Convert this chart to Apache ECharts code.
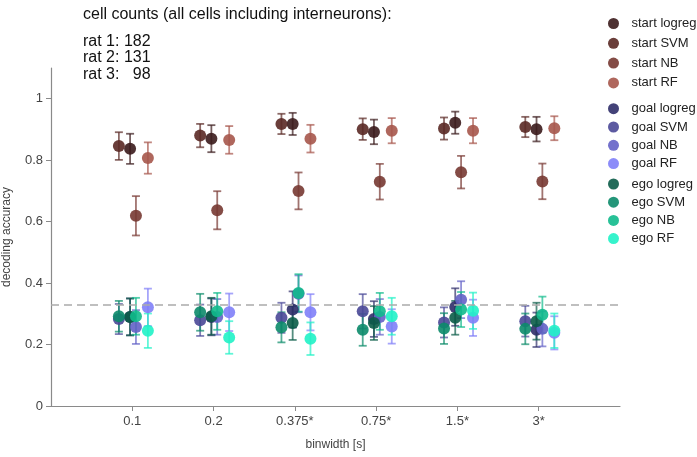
<!DOCTYPE html>
<html>
<head>
<meta charset="utf-8">
<script src="https://cdn.jsdelivr.net/npm/echarts@6/dist/echarts.min.js"></script>
<style>
  html, body { margin: 0; padding: 0; background: #ffffff; }
  #myChart { width: 697px; height: 457px; }
</style>
</head>
<body>
<div id="myChart"></div>
<script>
// binwidths on the x axis
const binLabels = ['0.1', '0.2', '0.375*', '0.75*', '1.5*', '3*']
const yTicks = [0, 0.2, 0.4, 0.6, 0.8, 1]
const chance = 1 / 3

const titleText = 'cell counts (all cells including interneurons):'
const ratLines = ['rat 1: 182', 'rat 2: 131', 'rat 3:   98']

const groups = ['start', 'goal', 'ego']
const algos = ['logreg', 'SVM', 'NB', 'RF']

// mean decoding accuracy per binwidth
const startLogreg = [0.837, 0.870, 0.918, 0.892, 0.922, 0.901]
const startSVM    = [0.846, 0.880, 0.918, 0.901, 0.903, 0.908]
const startNB     = [0.619, 0.637, 0.700, 0.730, 0.761, 0.731]
const startRF     = [0.807, 0.866, 0.870, 0.896, 0.896, 0.904]

const goalLogreg  = [0.290, 0.290, 0.314, 0.283, 0.322, 0.248]
const goalSVM     = [0.283, 0.279, 0.287, 0.308, 0.272, 0.276]
const goalNB      = [0.257, 0.290, 0.365, 0.290, 0.346, 0.251]
const goalRF      = [0.321, 0.305, 0.305, 0.259, 0.287, 0.238]

const egoLogreg   = [0.290, 0.292, 0.270, 0.270, 0.287, 0.276]
const egoSVM      = [0.292, 0.305, 0.256, 0.248, 0.252, 0.251]
const egoNB       = [0.292, 0.308, 0.368, 0.308, 0.314, 0.297]
const egoRF       = [0.245, 0.223, 0.219, 0.292, 0.310, 0.245]

// error bar half widths
const startLogregErr = [0.049, 0.044, 0.036, 0.040, 0.036, 0.040]
const startSVMErr    = [0.045, 0.038, 0.033, 0.035, 0.036, 0.033]
const startNBErr     = [0.064, 0.062, 0.060, 0.058, 0.053, 0.058]
const startRFErr     = [0.051, 0.045, 0.045, 0.041, 0.041, 0.039]

const goalLogregErr  = [0.060, 0.060, 0.059, 0.058, 0.061, 0.056]
const goalSVMErr     = [0.049, 0.051, 0.049, 0.056, 0.049, 0.050]
const goalNBErr      = [0.055, 0.058, 0.060, 0.058, 0.060, 0.057]
const goalRFErr      = [0.061, 0.061, 0.059, 0.056, 0.059, 0.054]

const egoLogregErr   = [0.060, 0.060, 0.055, 0.055, 0.055, 0.060]
const egoSVMErr      = [0.050, 0.060, 0.049, 0.052, 0.050, 0.050]
const egoNBErr       = [0.060, 0.060, 0.061, 0.060, 0.057, 0.059]
const egoRFErr       = [0.056, 0.053, 0.053, 0.060, 0.059, 0.056]

const means = {
  start: [startLogreg, startSVM, startNB, startRF],
  goal: [goalLogreg, goalSVM, goalNB, goalRF],
  ego: [egoLogreg, egoSVM, egoNB, egoRF]
}
const errs = {
  start: [startLogregErr, startSVMErr, startNBErr, startRFErr],
  goal: [goalLogregErr, goalSVMErr, goalNBErr, goalRFErr],
  ego: [egoLogregErr, egoSVMErr, egoNBErr, egoRFErr]
}

const colors = {
  start: ['#3b1b1c', '#5a2925', '#773832', '#a6564b'],
  goal: ['#2f2d69', '#4a4897', '#6462c7', '#807ff8'],
  ego: ['#0b5c48', '#0c8b6a', '#11ba8c', '#20f2c6']
}
// horizontal dodge of each algorithm inside a binwidth
const dodge = [-0.027, -0.165, 0.045, 0.192]

const fontName = '"Liberation Sans", Arial, sans-serif'

function hexA(hex, a) {
  let r = parseInt(hex.slice(1, 3), 16)
  let g = parseInt(hex.slice(3, 5), 16)
  let b = parseInt(hex.slice(5, 7), 16)
  return 'rgba(' + r + ',' + g + ',' + b + ',' + a + ')'
}

function errRender(params, api) {
  let x = api.value(0)
  let top = api.coord([x, api.value(2)])
  let bot = api.coord([x, api.value(1)])
  let hw = 4
  let style = { stroke: api.visual('color'), lineWidth: 1.8, fill: null }
  return {
    type: 'group',
    children: [
      { type: 'line', shape: { x1: top[0], y1: top[1], x2: bot[0], y2: bot[1] }, style: style },
      { type: 'line', shape: { x1: top[0] - hw, y1: top[1], x2: top[0] + hw, y2: top[1] }, style: style },
      { type: 'line', shape: { x1: bot[0] - hw, y1: bot[1], x2: bot[0] + hw, y2: bot[1] }, style: style }
    ]
  }
}

let series = []
groups.forEach(g => {
  algos.forEach((a, k) => {
    let name = g + ' ' + a
    let c = colors[g][k]
    let pts = [], bars = []
    means[g][k].forEach((m, i) => {
      let x = i + dodge[k]
      pts.push([x, m])
      bars.push([x, m - errs[g][k][i], m + errs[g][k][i]])
    })
    series.push({
      name: name + ' err',
      type: 'custom',
      renderItem: errRender,
      itemStyle: { color: hexA(c, 0.7) },
      encode: { x: 0, y: [1, 2] },
      silent: true,
      data: bars
    })
    series.push({
      name: name,
      type: 'scatter',
      symbol: 'circle',
      symbolSize: 12,
      itemStyle: { color: c, opacity: 0.9 },
      data: pts
    })
  })
})

// chance level line
series[0].markLine = {
  silent: true,
  symbol: ['none', 'none'],
  label: { show: false },
  lineStyle: { type: [8, 5], color: '#aaaaaa', width: 1.5 },
  data: [{ yAxis: chance }]
}

function legendFor(g, top, gap) {
  return {
    orient: 'vertical',
    left: 603,
    top: top,
    itemWidth: 26,
    itemHeight: 11,
    itemGap: gap,
    icon: 'circle',
    textStyle: { fontFamily: fontName, fontSize: 13, color: '#222', lineHeight: 14 },
    data: algos.map(a => g + ' ' + a)
  }
}

let myChart = echarts.init(document.getElementById('myChart'))
let option = {
  backgroundColor: '#ffffff',
  animation: false,
  textStyle: { fontFamily: fontName },
  graphic: [
    {
      type: 'text', left: 83, top: 7,
      style: { text: titleText, font: '16px ' + fontName, fill: '#111' }
    },
    {
      type: 'text', left: 83, top: 33,
      style: { text: ratLines.join('\n'), font: '16px ' + fontName, lineHeight: 16.5, fill: '#111' }
    }
  ],
  legend: [
    legendFor('start', 11.5, 5.8),
    legendFor('goal', 96.7, 4.3),
    legendFor('ego', 172, 4.2)
  ],
  grid: { left: 51, right: 77, top: 68, bottom: 51, containLabel: false, outerBoundsMode: 'none' },
  xAxis: {
    type: 'value',
    min: -1,
    max: 6,
    name: 'binwidth [s]',
    nameLocation: 'middle',
    nameGap: 33,
    nameTextStyle: { fontSize: 12, color: '#444' },
    splitLine: { show: false },
    axisLine: { onZero: false, lineStyle: { color: '#8a8a8a', width: 1.2 } },
    axisTick: { show: true, length: 5, customValues: [0, 1, 2, 3, 4, 5], lineStyle: { color: '#8a8a8a' } },
    axisLabel: {
      customValues: [0, 1, 2, 3, 4, 5],
      formatter: v => binLabels[Math.round(v)],
      color: '#444',
      fontSize: 13,
      margin: 9
    }
  },
  yAxis: {
    type: 'value',
    min: 0,
    max: 1.1,
    name: 'decoding accuracy',
    nameLocation: 'middle',
    nameGap: 38,
    nameMoveOverlap: false,
    nameTextStyle: { fontSize: 12, color: '#444' },
    splitLine: { show: false },
    axisLine: { show: true, onZero: false, lineStyle: { color: '#8a8a8a', width: 1.2 } },
    axisTick: { show: true, length: 5, customValues: yTicks, lineStyle: { color: '#8a8a8a' } },
    axisLabel: {
      customValues: yTicks,
      formatter: v => (v === 0 || v === 1) ? String(v) : v.toFixed(1),
      color: '#444',
      fontSize: 13,
      margin: 8
    }
  },
  series: series
}
myChart.setOption(option)
window.onresize = function () {
  myChart.resize()
}
</script>
</body>
</html>
